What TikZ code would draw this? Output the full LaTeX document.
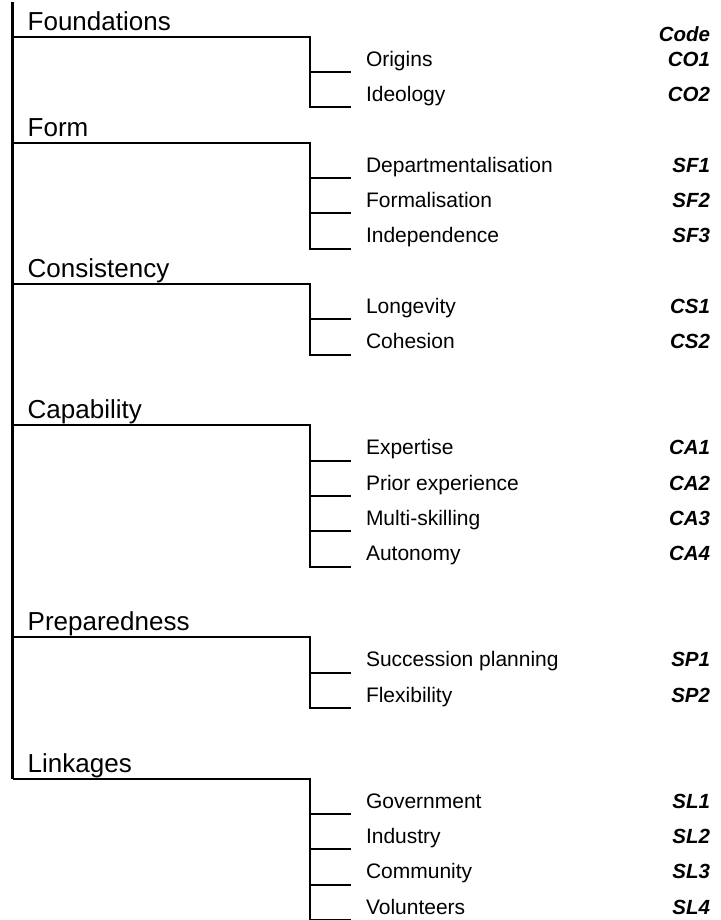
\documentclass[tikz,border=0pt]{standalone}
\usepackage{fontspec}
\setmainfont{Liberation Sans}

\begin{document}
\begin{tikzpicture}[x=1pt,y=-35.33pt,
  cat/.style={anchor=south west,inner xsep=15pt,inner ysep=6.5pt,outer sep=0pt,text depth=0pt,font=\fontsize{26}{30}\selectfont},
  item/.style={anchor=south west,inner xsep=15pt,inner ysep=6pt,outer sep=0pt,text depth=0pt,font=\fontsize{21}{24}\selectfont},
  code/.style={anchor=south east,inner xsep=0pt,inner ysep=6pt,outer sep=0pt,text depth=0pt,font=\fontsize{20.5}{24}\selectfont\bfseries\itshape},
  spine/.style={line width=3pt},
  branch/.style={line width=2pt}]
\useasboundingbox (0,-0.04) rectangle (720,26);

% categories
\node[cat] (found) at (12.7,1) {Foundations};
\node[cat] (form) at (12.7,4) {Form};
\node[cat] (cons) at (12.7,8) {Consistency};
\node[cat] (capa) at (12.7,12) {Capability};
\node[cat] (prep) at (12.7,18) {Preparedness};
\node[cat] (link) at (12.7,22) {Linkages};

% split points
\coordinate (top) at (12.7,0.03);
\coordinate (found-r) at (310,1);
\coordinate (form-r) at (310,4);
\coordinate (cons-r) at (310,8);
\coordinate (capa-r) at (310,12);
\coordinate (prep-r) at (310,18);
\coordinate (link-r) at (310,22);

% items
\node[item] (orig) at (351,2) {Origins};
\node[item] (ideo) at (351,3) {Ideology};
\node[item] (dept) at (351,5) {Departmentalisation};
\node[item] (frml) at (351,6) {Formalisation};
\node[item] (inde) at (351,7) {Independence};
\node[item] (long) at (351,9) {Longevity};
\node[item] (cohe) at (351,10) {Cohesion};
\node[item] (expe) at (351,13) {Expertise};
\node[item] (prio) at (351,14) {Prior experience};
\node[item] (mult) at (351,15) {Multi-skilling};
\node[item] (auto) at (351,16) {Autonomy};
\node[item] (succ) at (351,19) {Succession planning};
\node[item] (flex) at (351,20) {Flexibility};
\node[item] (govt) at (351,23) {Government};
\node[item] (indu) at (351,24) {Industry};
\node[item] (comm) at (351,25) {Community};
\node[item] (volu) at (351,26) {Volunteers};

% codes
\node[code] (head) at (710,1.3) {Code};
\node[code] (co1) at (710,2) {CO1};
\node[code] (co2) at (710,3) {CO2};
\node[code] (sf1) at (710,5) {SF1};
\node[code] (sf2) at (710,6) {SF2};
\node[code] (sf3) at (710,7) {SF3};
\node[code] (cs1) at (710,9) {CS1};
\node[code] (cs2) at (710,10) {CS2};
\node[code] (ca1) at (710,13) {CA1};
\node[code] (ca2) at (710,14) {CA2};
\node[code] (ca3) at (710,15) {CA3};
\node[code] (ca4) at (710,16) {CA4};
\node[code] (sp1) at (710,19) {SP1};
\node[code] (sp2) at (710,20) {SP2};
\node[code] (sl1) at (710,23) {SL1};
\node[code] (sl2) at (710,24) {SL2};
\node[code] (sl3) at (710,25) {SL3};
\node[code] (sl4) at (710,26) {SL4};

% tree lines
\draw[spine] (top) -- (link.south west);
\draw[branch] (found.south west) -- (found-r) |- (ideo.south west);
\draw[branch] (found-r) |- (orig.south west);
\draw[branch] (form.south west) -- (form-r) |- (inde.south west);
\draw[branch] (form-r) |- (dept.south west);
\draw[branch] (form-r) |- (frml.south west);
\draw[branch] (cons.south west) -- (cons-r) |- (cohe.south west);
\draw[branch] (cons-r) |- (long.south west);
\draw[branch] (capa.south west) -- (capa-r) |- (auto.south west);
\draw[branch] (capa-r) |- (expe.south west);
\draw[branch] (capa-r) |- (prio.south west);
\draw[branch] (capa-r) |- (mult.south west);
\draw[branch] (prep.south west) -- (prep-r) |- (flex.south west);
\draw[branch] (prep-r) |- (succ.south west);
\draw[branch] (link.south west) -- (link-r) |- (volu.south west);
\draw[branch] (link-r) |- (govt.south west);
\draw[branch] (link-r) |- (indu.south west);
\draw[branch] (link-r) |- (comm.south west);
\end{tikzpicture}
\end{document}
